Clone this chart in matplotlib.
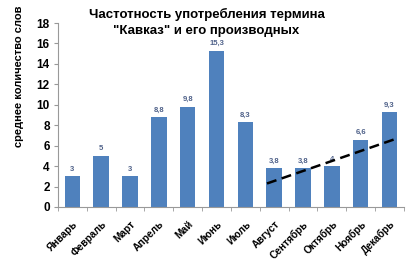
import matplotlib
matplotlib.use("Agg")
import matplotlib.pyplot as plt
import matplotlib.transforms as mtransforms
import numpy as np

plt.rcParams["font.family"] = ["Liberation Sans", "DejaVu Sans"]

months = ["Январь", "Февраль", "Март", "Апрель", "Май", "Июнь",
          "Июль", "Август", "Сентябрь", "Октябрь", "Ноябрь", "Декабрь"]
values = [3, 5, 3, 8.8, 9.8, 15.3, 8.3, 3.8, 3.8, 4, 6.6, 9.3]
value_labels = ["3", "5", "3", "8,8", "9,8", "15,3", "8,3", "3,8", "3,8", "4", "6,6", "9,3"]
# dashed trend line (x in month positions)
trend_x = [6.75, 11.2]
trend_y = [2.3, 6.65]

fig = plt.figure(figsize=(4.13, 2.62), dpi=100)
ax = fig.add_axes([0.1404, 0.21, 0.978 - 0.1404, 0.912 - 0.21])

x = np.arange(len(months))
ax.bar(x, values, width=0.54, color="#4f81bd", zorder=2)
for xi, v, lab in zip(x, values, value_labels):
    ax.text(xi, v + 0.35, lab, ha="center", va="bottom", fontsize=5.5,
            color="#50628a", fontweight="bold")

ax.plot(trend_x, trend_y, color="black", linestyle=(0, (4, 2.2)),
        linewidth=1.8, zorder=3)

ax.set_xlim(-0.5, len(months) - 0.5)
ax.set_ylim(0, 18)
ax.set_yticks(np.arange(0, 19, 2))
ax.set_xticks(x)
ax.set_xticklabels(months, rotation=45, ha="right", rotation_mode="anchor",
                   fontsize=7.3, fontweight="bold")
shift = mtransforms.ScaledTranslation(5 / 100, 0, fig.dpi_scale_trans)
for t in ax.get_xticklabels():
    t.set_transform(t.get_transform() + shift)
ax.set_xticks(np.arange(-0.5, len(months)), minor=True)
ax.tick_params(axis="x", which="major", length=0, pad=8.5)
ax.tick_params(axis="x", which="minor", length=3, color="#999999")
ax.tick_params(axis="y", length=3, color="#999999", labelsize=8.5, pad=3)
for t in ax.get_yticklabels():
    t.set_fontweight("bold")

for side in ["top", "right"]:
    ax.spines[side].set_visible(False)
for side in ["left", "bottom"]:
    ax.spines[side].set_color("#999999")
    ax.spines[side].set_linewidth(0.8)

fig.text(0.046, 0.71, "среднее количество слов", rotation=90, ha="center",
         va="center", fontsize=8, fontweight="bold")
fig.text(0.5, 0.968, "Частотность употребления термина\n\"Кавказ\" и его производных",
         ha="center", va="top", fontsize=9.5, fontweight="bold", linespacing=1.4)

fig.savefig("out.png", dpi=100)
